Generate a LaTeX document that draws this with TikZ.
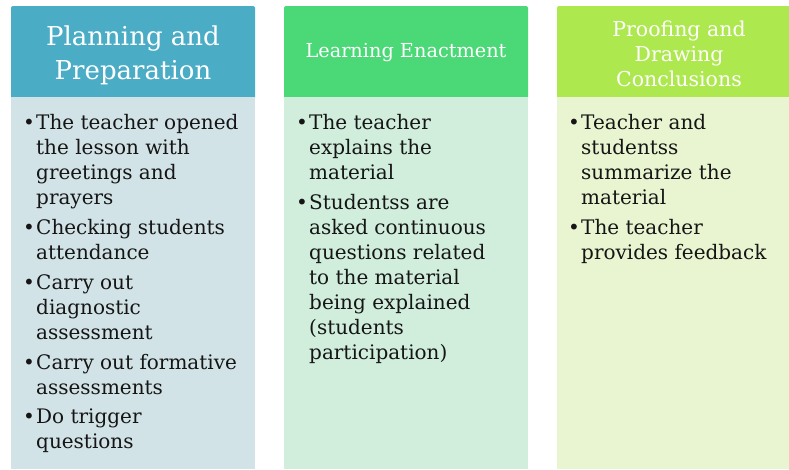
\documentclass[tikz,border=0pt]{standalone}
\usepackage{fontspec}
\setmainfont{DejaVu Serif}
\definecolor{hA}{HTML}{4BACC6}
\definecolor{bA}{HTML}{D2E3E8}
\definecolor{hB}{HTML}{4BD876}
\definecolor{bB}{HTML}{D1EEDC}
\definecolor{hC}{HTML}{ADE84E}
\definecolor{bC}{HTML}{E9F4D0}
\definecolor{txt}{HTML}{151515}
\tikzset{
  headtext/.style={text=white, align=center, inner sep=0pt},
  itemtext/.style={text=txt, align=left, anchor=north west, inner sep=0pt, font=\fontsize{20}{25}\selectfont},
  bul/.style={text=txt, anchor=north east, inner sep=0pt, font=\fontsize{20}{25}\selectfont}
}
\begin{document}
\begin{tikzpicture}[x=1pt,y=-1pt]
\useasboundingbox (0,0) rectangle (789,469);
\clip (0,0) rectangle (789,469);
% column 1
\fill[hA, rounded corners=2pt] (11,6) rectangle (255,99);
\fill[bA] (11,97) rectangle (255,469);
% column 2
\fill[hB, rounded corners=2pt] (284,6) rectangle (528,99);
\fill[bB] (284,97) rectangle (528,469);
% column 3
\fill[hC, rounded corners=2pt] (557,6) rectangle (801,99);
\fill[bC] (557,97) rectangle (801,469);

\node[headtext, font=\fontsize{26}{34}\selectfont] (h1) at (133,55) {Planning and\\Preparation};
\node[headtext, font=\fontsize{19.3}{25}\selectfont] (h2) at (406,53) {Learning Enactment};
\node[headtext, font=\fontsize{20.5}{25}\selectfont] (h3) at (679,53.5) {Proofing and\\Drawing\\Conclusions};

% column 1 items
\node[itemtext] (a1) at (36,111.5) {\strut The teacher opened\\the lesson with\\greetings and\\prayers};
\node[itemtext] (a2) at (36,216.5) {\strut Checking students\\attendance};
\node[itemtext] (a3) at (36,271.5) {\strut Carry out\\diagnostic\\assessment};
\node[itemtext] (a4) at (36,351.5) {\strut Carry out formative\\assessments};
\node[itemtext] (a5) at (36,405.5) {\strut Do trigger\\questions};
\foreach \n in {a1,a2,a3,a4,a5} \node[bul] at ([xshift=-1pt]\n.north west) {\strut\textbullet};

% column 2 items
\node[itemtext] (b1) at (309,111.5) {\strut The teacher\\explains the\\material};
\node[itemtext] (b2) at (309,191.5) {\strut Studentss are\\asked continuous\\questions related\\to the material\\being explained\\(students\\participation)};
\foreach \n in {b1,b2} \node[bul] at ([xshift=-1pt]\n.north west) {\strut\textbullet};

% column 3 items
\node[itemtext] (c1) at (581,111.5) {\strut Teacher and\\studentss\\summarize the\\material};
\node[itemtext] (c2) at (581,216.5) {\strut The teacher\\provides feedback};
\foreach \n in {c1,c2} \node[bul] at ([xshift=-1pt]\n.north west) {\strut\textbullet};
\end{tikzpicture}
\end{document}
